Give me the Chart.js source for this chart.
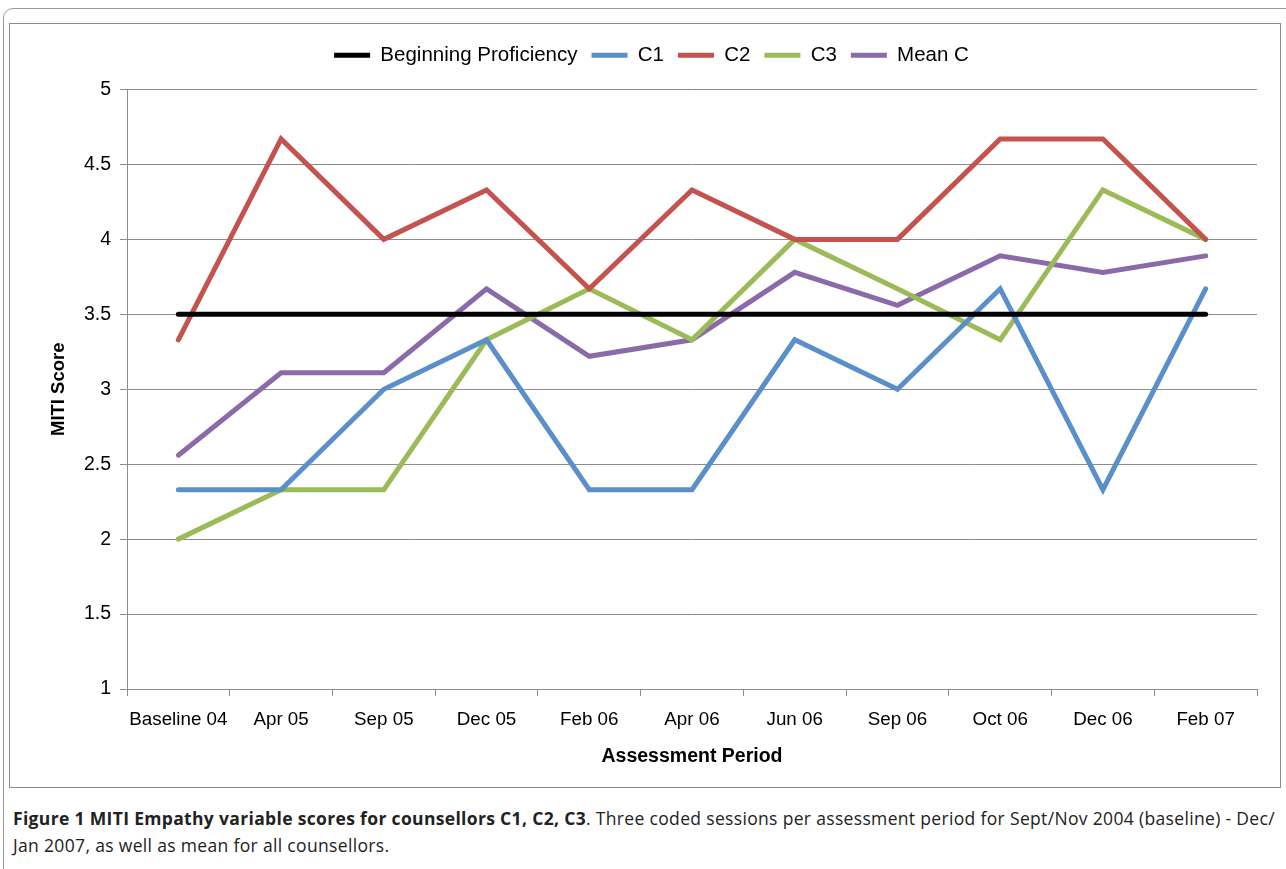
<!DOCTYPE html>
<html>
<head>
<meta charset="utf-8">
<script src="https://cdn.jsdelivr.net/npm/chart.js@4.4.0/dist/chart.umd.min.js"></script>
<style>
  body { margin: 0; background: #fff; width: 1286px; height: 869px; overflow: hidden; position: relative; }
  #outer { position: absolute; left: 3px; top: 8px; width: 1300px; height: 900px; border: 1px solid #9a9a9a; border-radius: 10px; }
  #box { position: absolute; left: 9px; top: 23px; width: 1270px; height: 763px; border: 1px solid #8c8c8c; }
  #caption { position: absolute; left: 13px; top: 805px; font-family: "Open Sans", sans-serif; font-size: 17.5px; line-height: 27px; color: #222; white-space: nowrap; }
</style>
</head>
<body>
<div id="outer"></div>
<div id="box"><canvas id="chart" width="1270" height="763"></canvas></div>
<div id="caption"><span id="line1"><b>Figure 1 MITI Empathy variable scores for counsellors C1, C2, C3</b>. Three coded sessions per assessment period for Sept/Nov 2004 (baseline) - Dec/</span><br><span id="line2">Jan 2007, as well as mean for all counsellors.</span></div>
<script>
const periods = ['Baseline 04', 'Apr 05', 'Sep 05', 'Dec 05', 'Feb 06', 'Apr 06', 'Jun 06', 'Sep 06', 'Oct 06', 'Dec 06', 'Feb 07'];
const proficiency = [3.5, 3.5, 3.5, 3.5, 3.5, 3.5, 3.5, 3.5, 3.5, 3.5, 3.5];
const c1 = [2.33, 2.33, 3.0, 3.33, 2.33, 2.33, 3.33, 3.0, 3.67, 2.33, 3.67];
const c2 = [3.33, 4.67, 4.0, 4.33, 3.67, 4.33, 4.0, 4.0, 4.67, 4.67, 4.0];
const c3 = [2.0, 2.33, 2.33, 3.33, 3.67, 3.33, 4.0, 3.67, 3.33, 4.33, 4.0];
const meanC = [2.56, 3.11, 3.11, 3.67, 3.22, 3.33, 3.78, 3.56, 3.89, 3.78, 3.89];

const font = 'Liberation Sans, Arial, sans-serif';

// squeeze caption first line to the width it has in the figure
const line1 = document.getElementById('line1');
const n = line1.textContent.length;
const extra = (1262 - line1.getBoundingClientRect().width) / n;
document.getElementById('caption').style.letterSpacing = extra.toFixed(3) + 'px';

function series(label, data, color) {
    return {
        label: label,
        data: data,
        borderColor: color,
        backgroundColor: color,
        borderWidth: 5,
        borderCapStyle: 'round',
        pointRadius: 0,
        tension: 0,
        fill: false
    };
}

// extra room under the legend
const legendGap = {
    id: 'legendGap',
    beforeInit(chart) {
        const fit = chart.legend.fit;
        chart.legend.fit = function() {
            fit.bind(chart.legend)();
            this.height += 14;
        };
    }
};

const ctx = document.getElementById('chart').getContext('2d');
new Chart(ctx, {
    type: 'line',
    data: {
        labels: periods,
        datasets: [
            series('Beginning Proficiency', proficiency, '#000000'),
            series('C1', c1, '#5b8fc9'),
            series('C2', c2, '#c4524f'),
            series('C3', c3, '#9bbb59'),
            series('Mean C', meanC, '#8b6aaa')
        ]
    },
    plugins: [legendGap],
    options: {
        responsive: false,
        animation: false,
        layout: { padding: { top: 7, right: 23, left: 36, bottom: 0 } },
        plugins: {
            legend: {
                position: 'top',
                labels: {
                    usePointStyle: true,
                    pointStyle: 'line',
                    pointStyleWidth: 36,
                    padding: 14,
                    color: '#000',
                    font: { family: font, size: 20.5 }
                }
            },
            tooltip: { enabled: false }
        },
        scales: {
            x: {
                offset: true,
                grid: { offset: true, drawOnChartArea: false, drawTicks: true, tickLength: 7, color: '#8c8c8c' },
                border: { color: '#8c8c8c', width: 1 },
                ticks: { color: '#000', font: { family: font, size: 18.8 }, padding: 13, maxRotation: 0, autoSkip: false },
                title: { display: true, text: 'Assessment Period', color: '#000', font: { family: font, size: 19.5, weight: 'bold' }, padding: { top: 6, bottom: 19 } },
                afterFit: function(scale) { scale.height = 98; }
            },
            y: {
                min: 1,
                max: 5,
                ticks: {
                    stepSize: 0.5,
                    color: '#000',
                    font: { family: font, size: 19.5 },
                    padding: 9,
                    callback: function(v) { return String(v); }
                },
                grid: { color: '#8c8c8c', tickLength: 7 },
                border: { color: '#8c8c8c', width: 1 },
                title: { display: true, text: 'MITI Score', color: '#000', font: { family: font, size: 18.5, weight: 'bold' }, padding: { top: 2 } },
                afterFit: function(scale) { scale.width = 81; }
            }
        }
    }
});
</script>
</body>
</html>
